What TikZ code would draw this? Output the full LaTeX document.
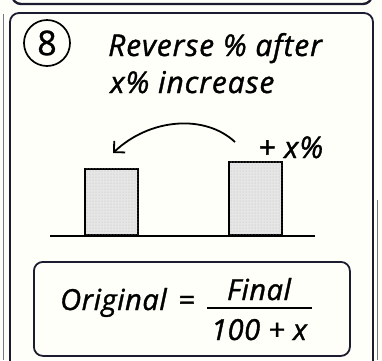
\documentclass[tikz,border=0pt]{standalone}
\usepackage{fontspec}
\setmainfont{Open Sans}
\usetikzlibrary{arrows.meta,patterns}
\definecolor{ink}{HTML}{1C1C30}
\definecolor{bar}{HTML}{E6E6E6}
\tikzset{
  frame/.style={draw=ink, line width=1.8pt, rounded corners=9pt},
  hand/.style={font=\fontsize{30}{34}\selectfont\itshape\addfontfeature{FakeBold=1.2,LetterSpace=3}, text=black, inner sep=0pt},
  handf/.style={font=\fontsize{29}{32}\selectfont\itshape\addfontfeature{FakeBold=1.2,LetterSpace=2}, text=black, inner sep=0pt},
  barbox/.style={draw=black, line width=2.2pt, fill=bar, postaction={pattern=dots, pattern color=gray!55}},
}
\begin{document}
\begin{tikzpicture}[x=1pt,y=-1pt]
\useasboundingbox (0,0) rectangle (382,360);
\fill[white!98!yellow] (0,0) rectangle (382,360);
% previous box bottom
\draw[frame, line width=2.4pt] (12,-20) -- (12,4) -- (372,4) -- (372,-20);
% outer thin lines
\draw[ink!60, line width=0.8pt] (3,14) -- (3,360);
\draw[ink!60, line width=0.8pt] (377,200) -- (377,360);
% main frame
\draw[frame] (10,380) -- (10,13) -- (373,13) -- (373,380);
% number
\node[draw=black, line width=1.7pt, circle, minimum size=46pt, inner sep=0pt,
      font=\fontsize{34}{36}\selectfont\addfontfeature{FakeBold=1}] (num) at (47,43) {8};
% title
\node[hand, anchor=base west] (t1) at (108,56) {Reverse \% after};
\node[hand, anchor=base west] (t2) at (110,93) {x\% increase};
% baseline and bars
\coordinate (gl) at (50,236);
\coordinate (gr) at (315,236);
\draw[black, line width=2.2pt] (gl) -- (gr);
\node[barbox, minimum width=53pt, minimum height=66pt, anchor=south west, inner sep=0pt] (b1) at (84,236) {};
\node[barbox, minimum width=53pt, minimum height=73pt, anchor=south west, inner sep=0pt] (b2) at (228,236) {};
% arrow
\coordinate (as) at (235,142);
\coordinate (ae) at (113,153);
\draw[black, line width=1.8pt, -{Straight Barb[length=8pt,width=16pt]}]
  (as) .. controls (205,114) and (150,118) .. (ae);
\node[hand, anchor=base west] (px) at (258,158) {+ x\%};
% formula box
\node[frame, minimum width=316pt, minimum height=94pt, anchor=north west, inner sep=0pt] (fb) at (33,261) {};
\node[handf, anchor=base west] (orig) at (60,310) {Original};
\node[handf, anchor=base west] (eq) at (178,310) {=};
\draw[black, line width=1.8pt] (207,308) coordinate (fl) -- (312,308) coordinate (fr);
\node[handf, anchor=base] (fin) at (259,300) {Final};
\node[handf, anchor=base] (den) at (259,340) {100 + x};
\end{tikzpicture}
\end{document}
